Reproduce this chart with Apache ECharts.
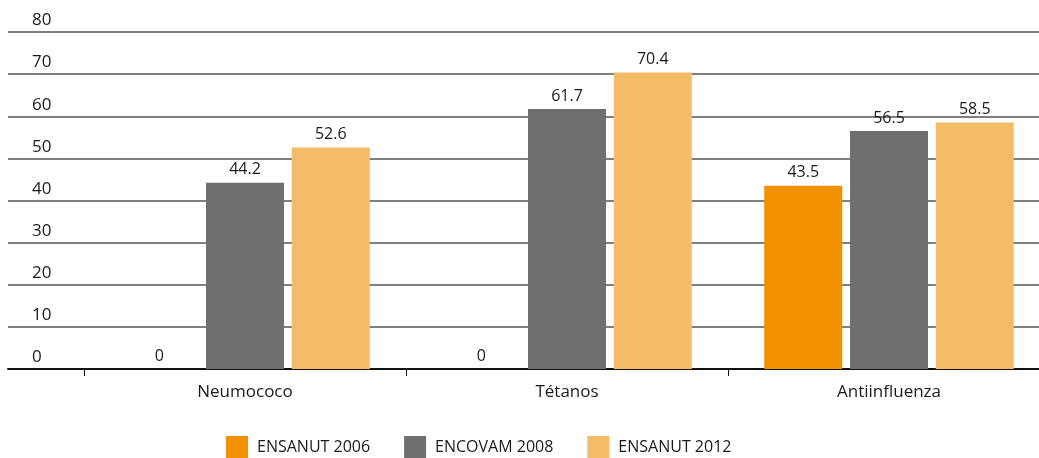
<!DOCTYPE html>
<html>
<head>
<meta charset="utf-8">
<script src="https://cdn.jsdelivr.net/npm/echarts@6/dist/echarts.min.js"></script>
<style>
  html, body { margin: 0; padding: 0; background: #fff; }
  #chart { width: 1039px; height: 458px; }
</style>
</head>
<body>
<div id="chart"></div>
<script>
// vaccines and survey values (%)
const categories = ["Neumococo", "Tétanos", "Antiinfluenza"];
const seriesNames = ["ENSANUT 2006", "ENCOVAM 2008", "ENSANUT 2012"];
const ensanut2006 = [0, 0, 43.5];
const encovam2008 = [44.2, 61.7, 56.5];
const ensanut2012 = [52.6, 70.4, 58.5];
const colors = ["#F29100", "#6F6F71", "#F5BC67"];

let myChart = echarts.init(document.getElementById("chart")),
  option;
const font = "Open Sans";

function barSeries(name, data, color) {
  return {
    name: name,
    type: "bar",
    xAxisIndex: 1,
    yAxisIndex: 1,
    data: data,
    barWidth: 78,
    barGap: "10%",
    itemStyle: { color: color },
    label: {
      show: true,
      position: "top",
      distance: 5,
      color: "#1a1a1a",
      fontFamily: font,
      fontSize: 16
    }
  };
}

option = {
  animation: false,
  color: colors,
  legend: {
    left: 221,
    top: 431,
    itemWidth: 22,
    itemHeight: 23,
    itemGap: 34,
    icon: "rect",
    textStyle: {
      fontFamily: font,
      fontSize: 16,
      color: "#1a1a1a",
      padding: [0, 0, 0, 4]
    },
    data: seriesNames
  },
  grid: [
    // grid lines and labels across the full width
    { left: 8, right: 0, top: 32, bottom: 89, outerBoundsMode: "none" },
    // bars, last category runs past the right edge
    { left: 84, width: 966, top: 32, bottom: 89, outerBoundsMode: "none" }
  ],
  xAxis: [
    {
      gridIndex: 0,
      type: "value",
      min: 0,
      max: 1,
      axisLine: { show: true, lineStyle: { color: "#111", width: 2 } },
      axisTick: { show: false },
      axisLabel: { show: false },
      splitLine: { show: false }
    },
    {
      gridIndex: 1,
      type: "category",
      data: categories,
      axisLine: { show: false },
      axisTick: { show: true, length: 7, lineStyle: { color: "#111", width: 1 } },
      axisLabel: {
        margin: 15,
        fontFamily: font,
        fontSize: 17,
        color: "#1a1a1a"
      }
    }
  ],
  yAxis: [
    {
      gridIndex: 0,
      type: "value",
      min: 0,
      max: 80,
      interval: 10,
      axisLine: { show: false },
      axisTick: { show: false },
      axisLabel: {
        inside: true,
        margin: 24,
        verticalAlign: "bottom",
        padding: [0, 0, 3, 0],
        fontFamily: font,
        fontSize: 17,
        color: "#1a1a1a"
      },
      splitLine: { lineStyle: { color: "#555", width: 1.5 } }
    },
    {
      gridIndex: 1,
      type: "value",
      min: 0,
      max: 80,
      show: false
    }
  ],
  series: [
    barSeries(seriesNames[0], ensanut2006, colors[0]),
    barSeries(seriesNames[1], encovam2008, colors[1]),
    barSeries(seriesNames[2], ensanut2012, colors[2])
  ]
};

if (option && typeof option === "object") myChart.setOption(option);
</script>
</body>
</html>
